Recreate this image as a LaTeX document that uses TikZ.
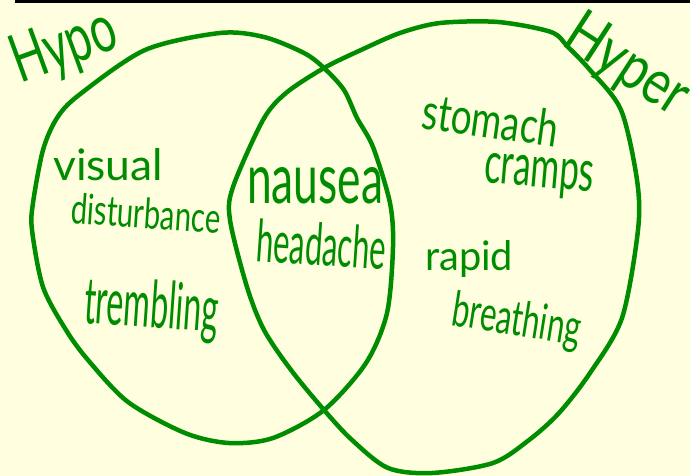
\documentclass[tikz,border=0pt]{standalone}
\usepackage{fontspec}
\setmainfont{Lato}
\usepackage{graphicx}
\definecolor{pen}{RGB}{0,140,0}
\definecolor{paper}{RGB}{255,255,224}
\tikzset{
  venn/.style={draw=pen, line width=4.5pt, line cap=round, line join=round},
  word/.style={text=pen, font=\mdseries, inner sep=0pt, anchor=base west},
}
\newcommand\hw[3]{\resizebox{#1pt}{#2pt}{#3}}
\begin{document}
\begin{tikzpicture}[x=1pt,y=-1pt]
\fill[paper] (0,0) rectangle (690,476);
\useasboundingbox (0,0) rectangle (690,476);
\fill[black] (15,0) rectangle (690,3);
% left set (Hypo)
\draw[venn] plot[smooth cycle, tension=0.5] coordinates {
 (220,33) (264,37) (304,53) (324,68) (344,90) (357,118) (373,147) (390,203)
 (393,247) (387,313) (366,363) (324,410) (273,438) (229,443) (185,433)
 (128,402) (88,360) (66,330) (43,287) (32,230) (33,203) (43,150) (57,118)
 (79,95) (145,50)};
% right set (Hyper)
\draw[venn] plot[smooth cycle, tension=0.5] coordinates {
 (440,23) (498,22) (551,32) (568,47) (590,70) (621,110) (637,180) (638,230)
 (622,318) (590,373) (559,413) (529,440) (493,463) (432,473) (388,468)
 (352,440) (324,410) (291,370) (264,330) (247,287) (230,220) (233,187)
 (263,120) (286,93) (324,68) (361,50) (400,33)};
% titles
\node[word, rotate=20] (hypo) at (20,84) {\hw{108}{48}{Hypo}};
\node[word, rotate=-33] (hyper) at (560,44) {\hw{135}{45}{Hyper}};
% Hypo only
\node[word] (visual) at (53,180) {\hw{110}{32}{visual}};
\node[word, rotate=-4] (dist) at (70,223) {\hw{150}{31}{disturbance}};
\node[word, rotate=-4] (trem) at (83,323) {\hw{134}{48}{trembling}};
% both
\node[word] (naus) at (247,203) {\hw{136}{36}{nausea}};
\node[word, rotate=-4] (head) at (255,261) {\hw{130}{43}{headache}};
% Hyper only
\node[word, rotate=-8] (stom) at (420,128) {\hw{137}{37}{stomach}};
\node[word, rotate=-5] (cramp) at (483,182) {\hw{110}{30}{cramps}};
\node[word] (rapid) at (425,270) {\hw{88}{30}{rapid}};
\node[word, rotate=-9] (breath) at (450,325) {\hw{130}{36}{breathing}};
\end{tikzpicture}
\end{document}
